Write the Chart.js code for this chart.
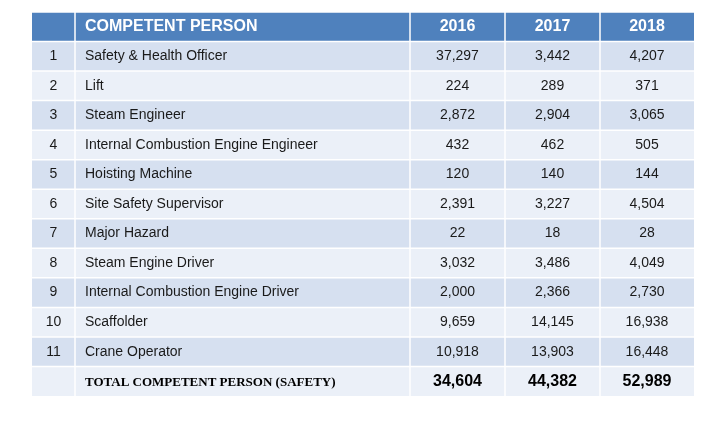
<!DOCTYPE html>
<html><head><meta charset="utf-8">
<script src="https://cdn.jsdelivr.net/npm/chart.js@4"></script>
<style>body{margin:0;background:#fff}</style>
</head><body>
<canvas id="c" width="720" height="426"></canvas>
<script>
const years = ["2016", "2017", "2018"];
const persons = ["Safety & Health Officer", "Lift", "Steam Engineer", "Internal Combustion Engine Engineer",
  "Hoisting Machine", "Site Safety Supervisor", "Major Hazard", "Steam Engine Driver",
  "Internal Combustion Engine Driver", "Scaffolder", "Crane Operator"];
const v2016 = [37297, 224, 2872, 432, 120, 2391, 22, 3032, 2000, 9659, 10918];
const v2017 = [3442, 289, 2904, 462, 140, 3227, 18, 3486, 2366, 14145, 13903];
const v2018 = [4207, 371, 3065, 505, 144, 4504, 28, 4049, 2730, 16938, 16448];
const totals = [34604, 44382, 52989];

const rowKeys = ["head"].concat(persons.map((p, i) => "r" + i), ["total"]);
const colEdges = [0, 43, 378, 473, 568, 662];
const fmt = n => n.toLocaleString("en-US");

const tablePlugin = {
  id: "table",
  beforeDatasetsDraw(chart) {
    const {ctx, scales: {x, y}} = chart;
    const xl = x.getPixelForValue(colEdges[0]), xr = x.getPixelForValue(colEdges[5]);
    const bandH = Math.abs(y.getPixelForValue(1) - y.getPixelForValue(0));
    rowKeys.forEach((k, r) => {
      const cy = y.getPixelForValue(r);
      const top = cy - bandH / 2;
      ctx.fillStyle = r === 0 ? "#4f81bd" : (r % 2 ? "#d6e0f0" : "#ebf0f8");
      ctx.fillRect(xl, top, xr - xl, bandH);
      ctx.strokeStyle = "#fff"; ctx.lineWidth = 1.5;
      ctx.beginPath(); ctx.moveTo(xl, top); ctx.lineTo(xr, top); ctx.stroke();
    });
    const t = y.getPixelForValue(0) - bandH / 2, b = y.getPixelForValue(rowKeys.length - 1) + bandH / 2;
    colEdges.slice(1, 5).forEach(e => {
      const px = x.getPixelForValue(e);
      ctx.beginPath(); ctx.moveTo(px, t); ctx.lineTo(px, b); ctx.stroke();
    });
    const mid = c => x.getPixelForValue((colEdges[c] + colEdges[c + 1]) / 2);
    ctx.textBaseline = "middle";
    // header
    let cy = y.getPixelForValue(0);
    ctx.fillStyle = "#fff"; ctx.font = "bold 16px 'Liberation Sans', Arial";
    ctx.textAlign = "left"; ctx.fillText("COMPETENT PERSON", x.getPixelForValue(colEdges[1]) + 10, cy);
    ctx.textAlign = "center";
    years.forEach((yr, i) => ctx.fillText(yr, mid(i + 2), cy));
    // body
    ctx.fillStyle = "#1a1a1a"; ctx.font = "14px 'Liberation Sans', Arial";
    persons.forEach((p, i) => {
      cy = y.getPixelForValue(i + 1);
      ctx.textAlign = "center"; ctx.fillText(String(i + 1), mid(0), cy);
      ctx.textAlign = "left"; ctx.fillText(p, x.getPixelForValue(colEdges[1]) + 10, cy);
      ctx.textAlign = "center";
      [v2016, v2017, v2018].forEach((arr, j) => ctx.fillText(fmt(arr[i]), mid(j + 2), cy));
    });
    // total
    cy = y.getPixelForValue(rowKeys.length - 1);
    ctx.fillStyle = "#000"; ctx.font = "bold 13px 'Liberation Serif', 'Times New Roman'";
    ctx.textAlign = "left"; ctx.fillText("TOTAL COMPETENT PERSON (SAFETY)", x.getPixelForValue(colEdges[1]) + 10, cy + 1);
    ctx.font = "bold 16px 'Liberation Sans', Arial"; ctx.textAlign = "center";
    totals.forEach((v, j) => ctx.fillText(fmt(v), mid(j + 2), cy));
  }
};

new Chart(document.getElementById("c"), {
  type: "scatter",
  data: { labels: rowKeys, datasets: [{ data: [], pointRadius: 0 }] },
  options: {
    responsive: false, animation: false,
    layout: { padding: { left: 32, right: 26, top: 12, bottom: 30 } },
    plugins: { legend: { display: false }, tooltip: { enabled: false } },
    scales: {
      x: { type: "linear", min: 0, max: 662, display: false },
      y: { type: "category", labels: rowKeys, offset: true, display: false }
    }
  },
  plugins: [tablePlugin]
});
</script>
</body></html>
